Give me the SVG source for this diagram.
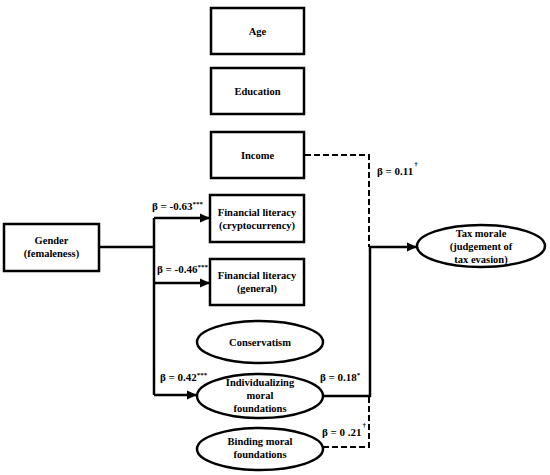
<svg xmlns="http://www.w3.org/2000/svg" width="550" height="475" viewBox="0 0 550 475">
<defs>
<style>
.box{fill:#fff;stroke:#000;stroke-width:2.5}
.t{font-family:'Liberation Serif','Times New Roman',serif;font-weight:bold;font-size:10.5px;text-anchor:middle;fill:#000}
.lb{font-family:'Liberation Serif','Times New Roman',serif;font-weight:bold;font-size:11px;fill:#000}
.sup{font-size:7px}
.ln{fill:none;stroke:#000;stroke-width:2.5}
.ds{fill:none;stroke:#000;stroke-width:2;stroke-dasharray:6,3}
</style>
<marker id="ah" markerWidth="10" markerHeight="10" refX="9" refY="5" orient="auto" markerUnits="userSpaceOnUse">
<path d="M0,0.5 L10,5 L0,9.5 Z" fill="#000"/>
</marker>
</defs>
<rect width="550" height="475" fill="#fff"/>
<g id="connectors">
<path class="ln" d="M99,247 H154"/>
<path class="ln" d="M154,218 V395"/>
<path class="ln" d="M154,218 H209" marker-end="url(#ah)"/>
<path class="ln" d="M154,283 H209" marker-end="url(#ah)"/>
<path class="ln" d="M154,395 H196" marker-end="url(#ah)"/>
<path class="ln" d="M323,396 H370 V247 H416" marker-end="url(#ah)"/>
<path class="ds" d="M305,155 H369 V247"/>
<path class="ds" d="M323,447 H369 V396"/>
<text class="lb" x="152" y="210">β = -0.63<tspan class="sup" dy="-4">***</tspan></text>
<text class="lb" x="157" y="273">β = -0.46<tspan class="sup" dy="-4">***</tspan></text>
<text class="lb" x="160" y="381">β = 0.42<tspan class="sup" dy="-4">***</tspan></text>
<text class="lb" x="320" y="381">β = 0.18<tspan class="sup" dy="-4">*</tspan></text>
<text class="lb" x="377" y="175">β = 0.11<tspan class="sup" dx="1" dy="-9">†</tspan></text>
<text class="lb" x="322" y="436">β = 0 .21<tspan class="sup" dx="1" dy="-9">†</tspan></text>
</g>
<g id="age"><rect class="box" x="211" y="8" width="93" height="46"/><text class="t" x="257.5" y="35">Age</text></g>
<g id="education"><rect class="box" x="211" y="68" width="93" height="46"/><text class="t" x="257.5" y="95">Education</text></g>
<g id="income"><rect class="box" x="211" y="132" width="93" height="46"/><text class="t" x="257.5" y="159">Income</text></g>
<g id="finlit-crypto"><rect class="box" x="210" y="195" width="94" height="47"/><text class="t" x="257" y="216">Financial literacy</text><text class="t" x="257" y="229">(cryptocurrency)</text></g>
<g id="finlit-general"><rect class="box" x="210" y="259" width="94" height="46"/><text class="t" x="257" y="279">Financial literacy</text><text class="t" x="257" y="292">(general)</text></g>
<g id="gender"><rect class="box" x="4" y="224" width="95" height="47"/><text class="t" x="51.5" y="244">Gender</text><text class="t" x="51.5" y="257">(femaleness)</text></g>
<g id="tax-morale"><ellipse class="box" cx="481" cy="246" rx="64" ry="21"/><text class="t" x="481" y="237">Tax morale</text><text class="t" x="481" y="250">(judgement of</text><text class="t" x="481" y="263">tax evasion)</text></g>
<g id="conservatism"><ellipse class="box" cx="260" cy="342" rx="63" ry="21"/><text class="t" x="260" y="346">Conservatism</text></g>
<g id="individualizing"><ellipse class="box" cx="260" cy="396" rx="63" ry="22"/><text class="t" x="260" y="386">Individualizing</text><text class="t" x="260" y="399">moral</text><text class="t" x="260" y="412">foundations</text></g>
<g id="binding"><ellipse class="box" cx="260" cy="449" rx="63" ry="21"/><text class="t" x="260" y="445">Binding moral</text><text class="t" x="260" y="458">foundations</text></g>
</svg>
